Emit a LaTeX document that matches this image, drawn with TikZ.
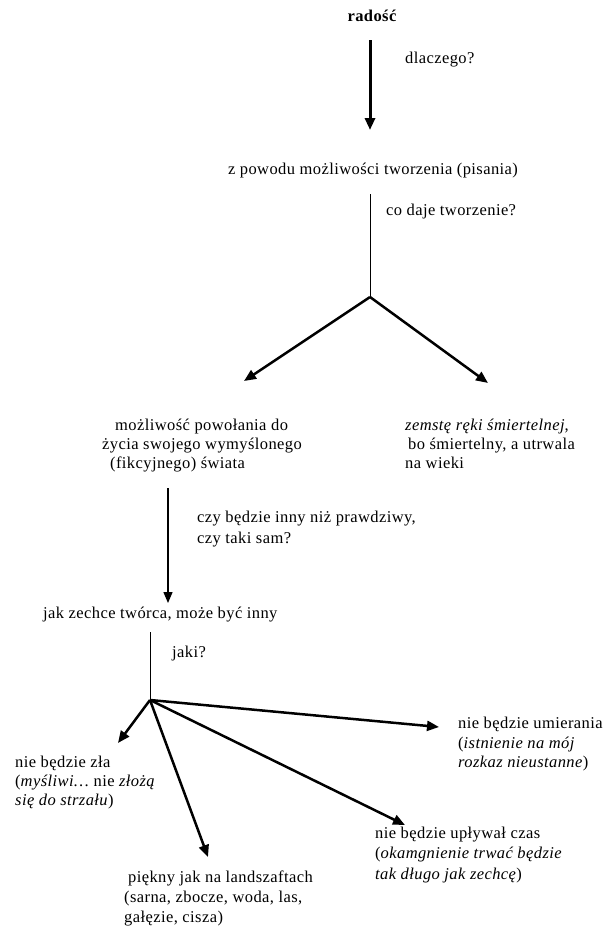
\documentclass[tikz,border=0pt]{standalone}
\usepackage{fontspec}
\setmainfont{Liberation Serif}[LetterSpace=2.5]
\usetikzlibrary{arrows.meta}
\begin{document}
\begin{tikzpicture}[x=1pt,y=-1pt,
  txt/.style={anchor=base west,inner sep=0pt,font=\fontsize{16.5}{20}\selectfont},
  ctxt/.style={anchor=base,inner sep=0pt,font=\fontsize{16.5}{20}\selectfont},
  bigarrow/.style={line width=3pt,-{Triangle[length=12pt,width=10pt]}},
  fanarrow/.style={line width=2.5pt,-{Triangle[length=12pt,width=10pt]}},
  thinarrow/.style={line width=1.3pt,-{Triangle[length=11pt,width=9pt]}},
  thinline/.style={line width=1pt}]
\useasboundingbox (0,0) rectangle (606,930);
% top
\node[ctxt,font=\fontsize{16.5}{20}\selectfont\bfseries] (rad) at (372,21) {radość};
\coordinate (a1s) at (370,40);
\coordinate (a1e) at (370,130);
\draw[bigarrow] (a1s) -- (a1e);
\node[txt] (dla) at (405,63) {dlaczego?};
\node[ctxt] (pow) at (373,174) {z powodu możliwości tworzenia (pisania)};
\coordinate (l1s) at (370,194);
\coordinate (b1) at (370,297);
\draw[thinline] (l1s) -- (b1);
\node[txt] (cod) at (386,215) {co daje tworzenie?};
\coordinate (t1) at (244,381);
\coordinate (t2) at (488,383);
\draw[fanarrow] (b1) -- (t1);
\draw[fanarrow] (b1) -- (t2);
% left block
\node[txt] (m1) at (115,430) {możliwość powołania do};
\node[txt] (m2) at (102,449) {życia swojego wymyślonego};
\node[txt] (m3) at (110,468) {(fikcyjnego) świata};
% right block
\node[txt] (z1) at (405,430) {\textit{zemstę ręki śmiertelnej},};
\node[txt] (z2) at (408,449) {bo śmiertelny, a utrwala};
\node[txt] (z3) at (405,468) {na wieki};
% second arrow
\coordinate (a2s) at (168,488);
\coordinate (a2e) at (168,603);
\draw[thinarrow] (a2s) -- (a2e);
\node[txt] (czy1) at (197,522) {czy będzie inny niż prawdziwy,};
\node[txt] (czy2) at (197,543) {czy taki sam?};
\node[txt] (jak) at (43,618) {jak zechce twórca, może być inny};
\coordinate (l2s) at (150,632);
\coordinate (b2) at (150,700);
\draw[thinline] (l2s) -- (b2);
\node[txt] (jaki) at (172,657) {jaki?};
% fan
\coordinate (f1) at (118,743);
\coordinate (f2) at (208,857);
\coordinate (f3) at (405,825);
\coordinate (f4) at (439,727);
\draw[fanarrow] (b2) -- (f1);
\draw[fanarrow] (b2) -- (f2);
\draw[fanarrow] (b2) -- (f3);
\draw[fanarrow] (b2) -- (f4);
% zla
\node[txt] (zl1) at (15,767) {nie będzie zła};
\node[txt] (zl2) at (15,786) {(\textit{myśliwi…} nie \textit{złożą}};
\node[txt] (zl3) at (15,805) {\textit{się do strzału})};
% piekny
\node[txt] (p1) at (128,882) {piękny jak na landszaftach};
\node[txt] (p2) at (124,902) {(sarna, zbocze, woda, las,};
\node[txt] (p3) at (124,922) {gałęzie, cisza)};
% umierania
\node[txt] (u1) at (458,728) {nie będzie umierania};
\node[txt] (u2) at (458,748) {(\textit{istnienie na mój}};
\node[txt] (u3) at (458,767) {\textit{rozkaz nieustanne})};
% uplywal
\node[txt] (c1) at (375,838) {nie będzie upływał czas};
\node[txt] (c2) at (375,858) {(\textit{okamgnienie trwać będzie}};
\node[txt] (c3) at (375,879) {\textit{tak długo jak zechcę})};
\end{tikzpicture}
\end{document}
